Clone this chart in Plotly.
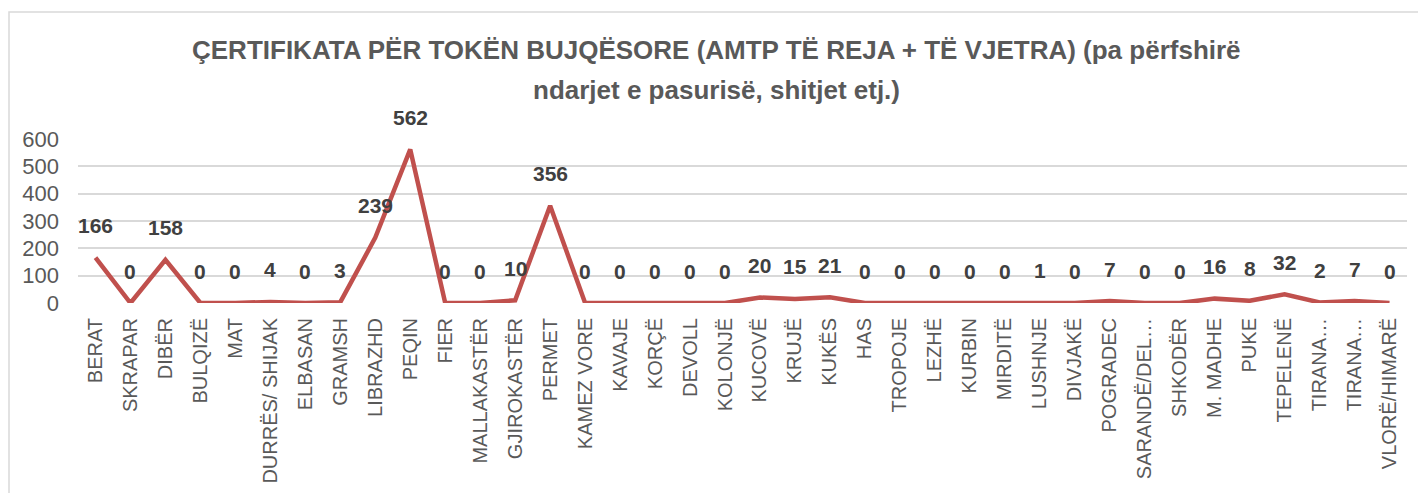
import plotly.graph_objects as go

categories = ["BERAT", "SKRAPAR", "DIBËR", "BULQIZË", "MAT", "DURRËS/ SHIJAK", "ELBASAN",
              "GRAMSH", "LIBRAZHD", "PEQIN", "FIER", "MALLAKASTËR", "GJIROKASTËR", "PERMET",
              "KAMEZ VORE", "KAVAJE", "KORÇË", "DEVOLL", "KOLONJË", "KUCOVË", "KRUJË", "KUKËS",
              "HAS", "TROPOJE", "LEZHË", "KURBIN", "MIRDITË", "LUSHNJE", "DIVJAKË", "POGRADEC",
              "SARANDË/DEL…", "SHKODËR", "M. MADHE", "PUKE", "TEPELENË", "TIRANA…", "TIRANA…",
              "VLORË/HIMARË"]
values = [166, 0, 158, 0, 0, 4, 0, 3, 239, 562, 0, 0, 10, 356, 0, 0, 0, 0, 0, 20, 15, 21,
          0, 0, 0, 0, 0, 1, 0, 7, 0, 0, 16, 8, 32, 2, 7, 0]
y_ticks = [0, 100, 200, 300, 400, 500, 600]
title_lines = ["ÇERTIFIKATA PËR TOKËN BUJQËSORE (AMTP TË REJA + TË VJETRA) (pa përfshirë",
               "ndarjet e pasurisë, shitjet etj.)"]

FONT = "Liberation Sans, Arial, sans-serif"

# page has an 8px body margin; figure sized to fill the visible window
OFF = 8
W, H = 1426 - OFF, 493 - OFF
L, R, T, B = 78 - OFF, 19, 139 - OFF, 190
PH = H - T - B
PW = W - L - R


def px_to_paper_y(py):
    return (H - B - (py - OFF)) / PH


def px_to_paper_x(px):
    return ((px - OFF) - L) / PW


xs = list(range(len(categories)))

fig = go.Figure()
fig.add_trace(go.Scatter(
    x=xs, y=values, mode="lines",
    line=dict(color="#C0504D", width=4.5),
    hoverinfo="skip", showlegend=False,
))

for xi, v in zip(xs, values):
    fig.add_annotation(x=xi, y=v, text=str(v), showarrow=False, yshift=32,
                       font=dict(family=FONT, size=21, color="#404040", weight="bold"),
                       xanchor="center", yanchor="middle")

for line_text, line_y in zip(title_lines, [50, 90]):
    fig.add_annotation(xref="paper", yref="paper", x=px_to_paper_x(716), y=px_to_paper_y(line_y),
                       text=line_text, showarrow=False, xanchor="center", yanchor="middle",
                       font=dict(family=FONT, size=26, color="#595959", weight="bold"))

fig.update_layout(
    width=W, height=H,
    margin=dict(l=L, r=R, t=T, b=B, autoexpand=False),
    paper_bgcolor="white", plot_bgcolor="white",
    xaxis=dict(tickmode="array", tickvals=xs, ticktext=categories, range=[-0.5, len(xs) - 0.5],
               tickangle=-90, showgrid=False, zeroline=False, showline=False, automargin=False,
               tickfont=dict(family=FONT, size=20, color="#595959"),
               ticklabelstandoff=10),
    yaxis=dict(range=[0, 600], tickvals=y_ticks, showgrid=True, gridcolor="#D9D9D9",
               gridwidth=1.5, zeroline=False, showline=False, automargin=False,
               tickfont=dict(family=FONT, size=22, color="#595959"),
               ticklabelstandoff=18),
    shapes=[dict(type="rect", xref="paper", yref="paper",
                 x0=px_to_paper_x(9), x1=1.2, y0=-3, y1=px_to_paper_y(12),
                 line=dict(color="#D9D9D9", width=1.5), layer="below")],
)

fig.write_html("out.html")
